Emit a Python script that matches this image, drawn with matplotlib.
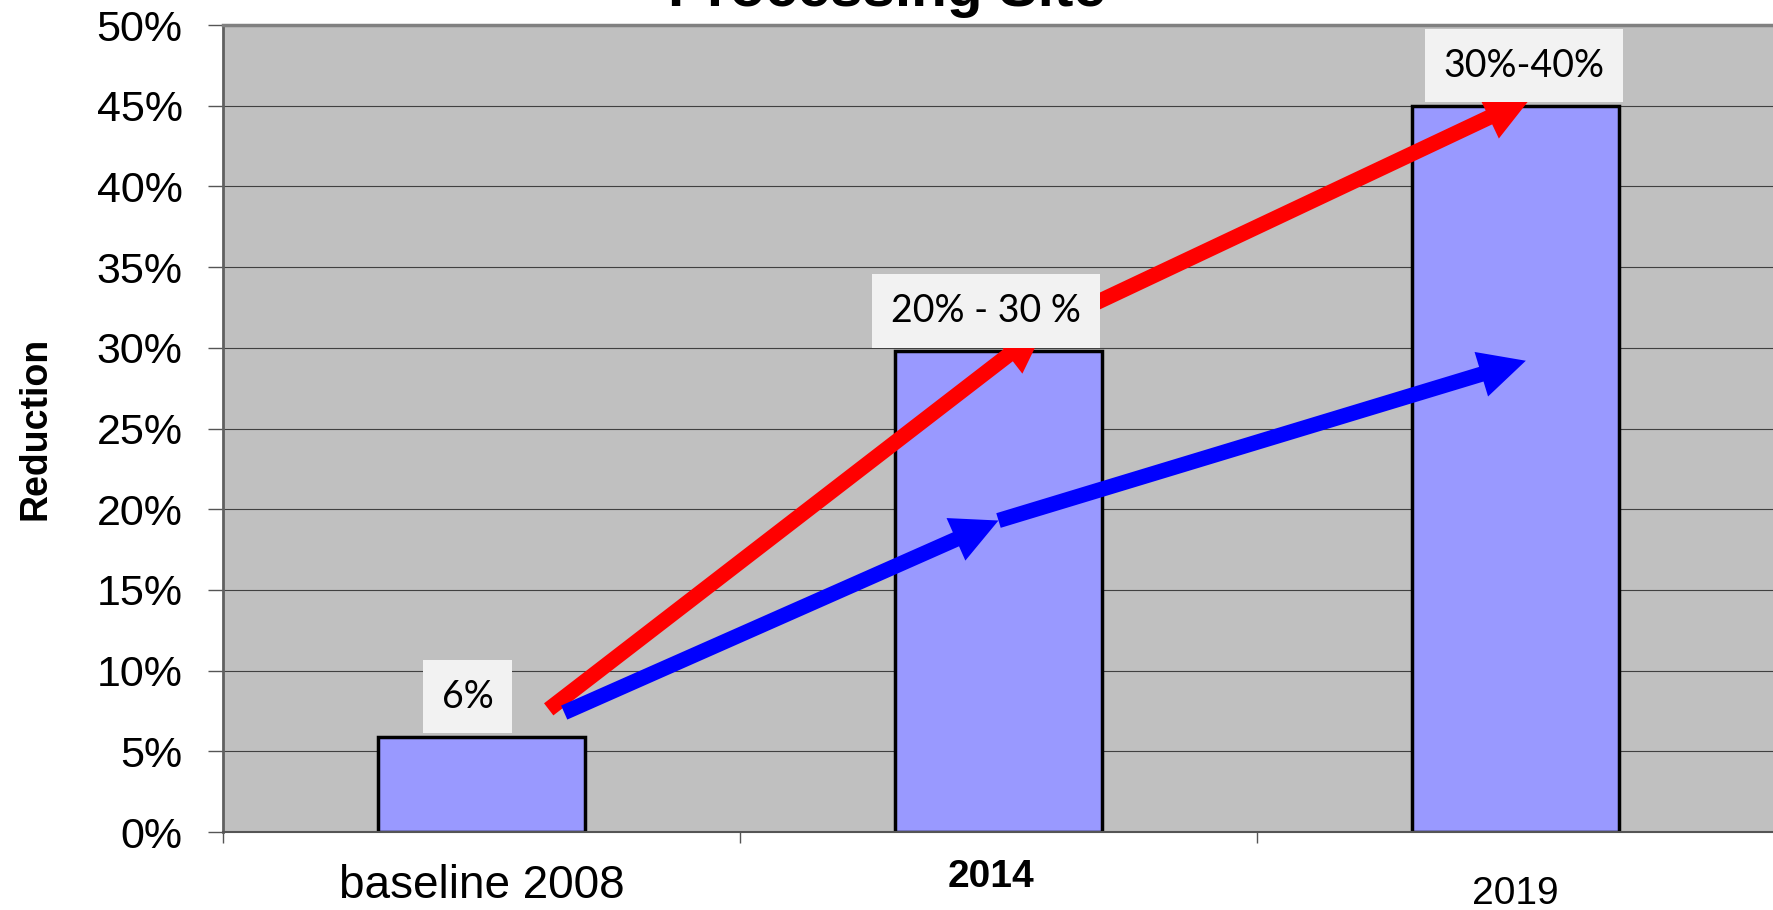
import matplotlib.pyplot as plt
from matplotlib.patches import FancyArrowPatch, ArrowStyle

categories = ['baseline 2008', '2014', '2019']
reduction = [5.9, 29.8, 45.0]
bar_labels = ['6%', '20% - 30 %', '30%-40%']
yticks = [0, 5, 10, 15, 20, 25, 30, 35, 40, 45, 50]

# arrow start/end (x in category units, y in %)
red_arrows = [[(0.13, 7.6), (1.09, 31.3)], [(1.09, 31.3), (2.03, 45.5)]]
blue_arrows = [[(0.16, 7.4), (1.0, 19.3)], [(1.0, 19.3), (2.02, 29.2)]]

fig = plt.figure(figsize=(17.74, 9.10), dpi=100)
ax = fig.add_axes([0.1257, 0.0857, 0.8743, 0.8868])
ax.set_facecolor('#c0c0c0')
ax.set_axisbelow(True)

x = list(range(len(categories)))
ax.bar(x, reduction, width=0.4, color='#9999ff', edgecolor='black', linewidth=2.5, zorder=2)
ax.set_xlim(-0.5, 2.5)
ax.set_ylim(0, 50)

# y axis
ax.set_yticks(yticks)
ax.set_yticklabels([f'{v}%' for v in yticks], fontsize=31, family='Liberation Sans')
ax.tick_params(axis='y', length=11, width=1, color='#555555', pad=18)
ax.grid(axis='y', color='#404040', linewidth=0.8)

# x axis: ticks on category boundaries, labels placed by hand
ax.set_xticks([-0.5, 0.5, 1.5, 2.5])
ax.set_xticklabels([])
ax.tick_params(axis='x', length=8, width=1, color='#555555')
label_x = [0, 0.985, 2]
label_y = [-0.067, -0.056, -0.077]
label_size = [33, 28, 28]
label_weight = ['normal', 'bold', 'normal']
for i, name in enumerate(categories):
    ax.text(label_x[i], label_y[i], name, transform=ax.get_xaxis_transform(), ha='center',
            va='center', fontsize=label_size[i], fontweight=label_weight[i], family='Liberation Sans')

ax.spines['right'].set_visible(False)
ax.spines['left'].set_color('#606060')
ax.spines['left'].set_linewidth(2)
ax.spines['bottom'].set_color('#555555')
ax.spines['bottom'].set_linewidth(1.5)
ax.spines['top'].set_color('#808080')
ax.spines['top'].set_linewidth(2.5)

ax.set_ylabel('Reduction', fontsize=27, fontweight='bold', family='Liberation Sans')
ax.yaxis.set_label_coords(-0.109, 0.5)

fig.text(0.5, 0.993, 'Processing Site', ha='center', va='baseline', fontsize=42,
         fontweight='bold', family='Liberation Sans')

# arrows
style = ArrowStyle.Simple(head_length=33.5, head_width=33.5, tail_width=11)
for pts in red_arrows:
    ax.add_patch(FancyArrowPatch(pts[0], pts[1], arrowstyle=style, mutation_scale=1,
                                 color='red', lw=0, shrinkA=0, shrinkB=0, zorder=3))
for pts in blue_arrows:
    ax.add_patch(FancyArrowPatch(pts[0], pts[1], arrowstyle=style, mutation_scale=1,
                                 color='blue', lw=0, shrinkA=0, shrinkB=0, zorder=4))

# value boxes
label_dx = [-10, -9, 6]
for i, val in enumerate(reduction):
    ax.annotate(bar_labels[i], (i, val), xytext=(label_dx[i], 16), textcoords='offset points',
                ha='center', va='bottom', fontsize=27, family='Lato', zorder=5,
                bbox=dict(boxstyle='square,pad=0.5', facecolor='#f2f2f2', edgecolor='none'))

fig.savefig('out.png', dpi=100)
